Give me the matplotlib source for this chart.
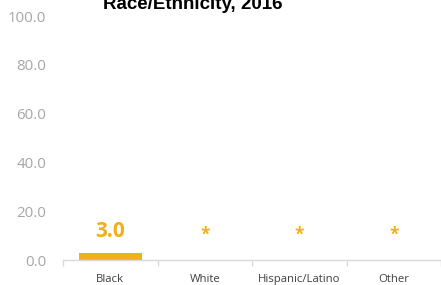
import matplotlib
matplotlib.use("Agg")
import matplotlib.pyplot as plt
import numpy as np

categories = ["Black", "White", "Hispanic/Latino", "Other"]
values = [3.0, None, None, None]
yticks = [0, 20, 40, 60, 80, 100]
title = "Race/Ethnicity, 2016"

orange = "#F0B01C"
gray_txt = "#A6A6A6"

fig = plt.figure(figsize=(4.41, 2.85), dpi=100)
ax = fig.add_axes([63/441, 25/285, 1 - 63/441, 244/285])

x = np.arange(len(categories))
vals = [v if v is not None else 0 for v in values]
ax.bar(x, vals, width=0.67, color=orange)

for xi, v in zip(x, values):
    if v is not None:
        ax.text(xi, v + 8.5, f"{v:.1f}", ha="center", va="center", color=orange,
                fontsize=15, fontweight="bold", family="Open Sans")
    else:
        ax.text(xi, 10.3, "*", ha="center", va="center", color=orange,
                fontsize=12.5, fontweight="bold", family="Open Sans")

ax.set_xlim(-0.5, 3.5)
ax.set_ylim(0, 100)
ax.set_yticks(yticks)
ax.set_yticklabels([f"{t:.1f}" for t in yticks], color=gray_txt, family="Open Sans", fontsize=10.8)
ax.set_xticks(x)
ax.set_xticklabels(categories, family="Open Sans", fontsize=8.2, color="#404040")
ax.set_xticks(np.arange(-0.5, len(categories), 1.0), minor=True)
ax.tick_params(axis="x", which="major", length=0, pad=10)
ax.tick_params(axis="x", which="minor", length=4, color="#D9D9D9", width=1)
ax.tick_params(axis="y", length=0, pad=12)
for s in ["top", "right", "left"]:
    ax.spines[s].set_visible(False)
ax.spines["bottom"].set_color("#D9D9D9")
ax.spines["bottom"].set_linewidth(1)

fig.text(193/441, 1 - 9/285, title, ha="center", va="baseline", fontsize=13.5,
         fontweight="bold", family="Liberation Sans", color="black")

fig.savefig("out.png", dpi=100)
